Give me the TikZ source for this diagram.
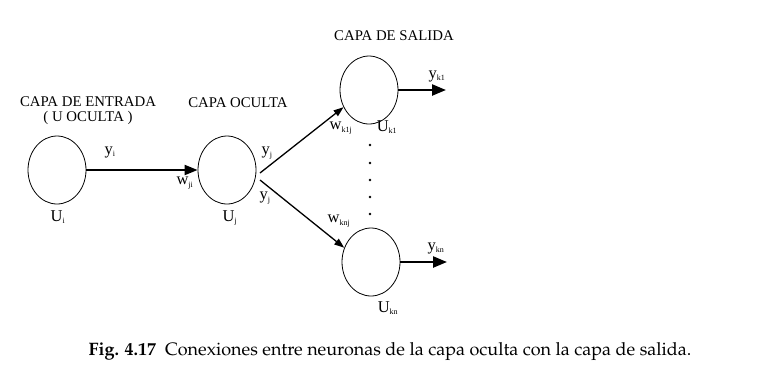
\documentclass[tikz,border=0pt]{standalone}
\usepackage[T1]{fontenc}
\usepackage{fontspec}
\setmainfont{Liberation Serif}
\usetikzlibrary{shapes.geometric,arrows.meta}
\newcommand\palfont{\fontencoding{T1}\fontfamily{ppl}\selectfont}
\newcommand\sbx[1]{\textsubscript{\fontsize{8}{9}\selectfont #1}}
\tikzset{
  neuron/.style={ellipse, draw, line width=0.8pt, minimum width=58pt, minimum height=68pt, inner sep=0pt},
  layertitle/.style={font=\fontsize{14.8}{16}\selectfont, inner sep=0pt, align=center},
  sym/.style={font=\fontsize{16.5}{17}\selectfont, inner sep=0pt},
  mainlink/.style={line width=2pt, -{Triangle[length=13pt,width=10pt]}},
  outlink/.style={line width=2.4pt, -{Triangle[length=14pt,width=11pt]}},
  sidelink/.style={line width=1.3pt, -{Triangle[length=10pt,width=7pt]}},
  dot/.style={circle, fill, inner sep=0pt, minimum size=2.6pt}
}
\begin{document}
\begin{tikzpicture}[x=1pt,y=-1pt]
\useasboundingbox (0,0) rectangle (782,384);

% neurons
\node[neuron] (ui)  at (57,170) {};
\node[neuron] (uj)  at (227,170) {};
\node[neuron] (uk1) at (369,90) {};
\node[neuron] (ukn) at (371,262) {};

% layer titles
\node[layertitle] (tout) at (394,36) {CAPA DE SALIDA};
\node[layertitle] (tin)  at (88,111) {CAPA DE ENTRADA\\[-1pt]( U OCULTA )};
\node[layertitle] (thid) at (238,103) {CAPA OCULTA};

% connection points on the hidden neuron and output ends
\coordinate (ja) at (260,173);
\coordinate (jb) at (260,180);
\coordinate (ok1) at (446,90);
\coordinate (okn) at (447,262);

% connections
\draw[mainlink] (ui.east) -- (uj.west);
\draw[sidelink] (ja) -- (uk1.214);
\draw[sidelink] (jb) -- (ukn.152);
\draw[outlink] (uk1.east) -- (ok1);
\draw[outlink] (ukn.east) -- (okn);

% ellipsis between output neurons
\node[dot] (d1) at (370,145) {};
\node[dot] (d2) at (370,163) {};
\node[dot] (d3) at (370,180) {};
\node[dot] (d4) at (370,197) {};
\node[dot] (d5) at (370,214) {};

% signal and weight labels
\node[sym] (lyi)  at (110,152) {y\sbx{i}};
\node[sym] (lwji) at (185,183) {w\sbx{ji}};
\node[sym] (lyja) at (267,153) {y\sbx{j}};
\node[sym] (lyjb) at (265,198) {y\sbx{j}};
\node[sym] (lui)  at (58,217) {U\sbx{i}};
\node[sym] (luj)  at (230,218) {U\sbx{j}};
\node[sym] (lwk1) at (341,128) {w\sbx{k1j}};
\node[sym] (luk1) at (387,127) {U\sbx{k1}};
\node[sym] (lyk1) at (437,76) {y\sbx{k1}};
\node[sym] (lwkn) at (339,221) {w\sbx{knj}};
\node[sym] (lukn) at (388,308) {U\sbx{kn}};
\node[sym] (lykn) at (436,248) {y\sbx{kn}};

% caption
\node[inner sep=0pt, font=\palfont\fontsize{18}{20}\selectfont] (cap) at (390,352)
  {\textbf{Fig. 4.17}\ \ Conexiones entre neuronas de la capa oculta con la capa de salida.};
\end{tikzpicture}
\end{document}
